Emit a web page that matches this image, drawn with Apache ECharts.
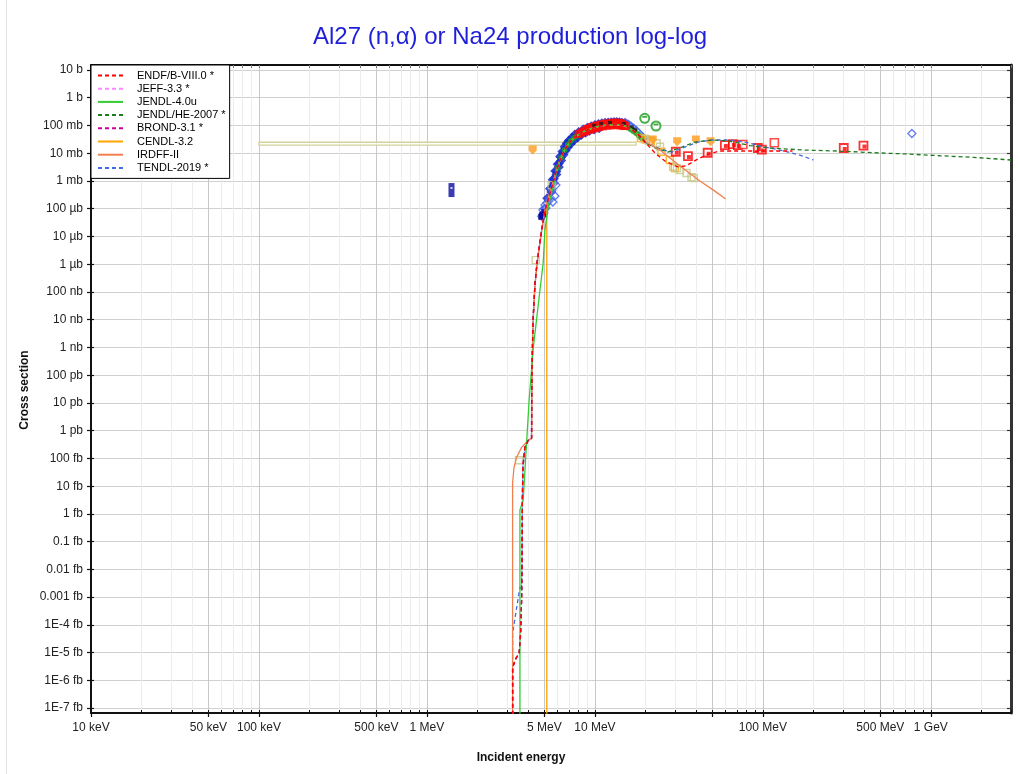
<!DOCTYPE html>
<html><head><meta charset="utf-8">
<script src="https://cdn.jsdelivr.net/npm/echarts@6/dist/echarts.min.js"></script>
<style>html,body{margin:0;padding:0;background:#fff}#c{width:1020px;height:774px}</style>
</head><body><div id="c"></div>
<script>
// ---------- tick labels ----------
const xTickValues = [0.01, 0.05, 0.1, 0.5, 1, 5, 10, 100, 500, 1000]; // MeV
const xTickLabels = ['10 keV','50 keV','100 keV','500 keV','1 MeV','5 MeV','10 MeV','100 MeV','500 MeV','1 GeV'];
const yTickExps = [1,0,-1,-2,-3,-4,-5,-6,-7,-8,-9,-10,-11,-12,-13,-14,-15,-16,-17,-18,-19,-20,-21,-22]; // log10(barn)
const yTickLabels = ['10 b','1 b','100 mb','10 mb','1 mb','100 µb','10 µb','1 µb','100 nb','10 nb','1 nb','100 pb','10 pb','1 pb','100 fb','10 fb','1 fb','0.1 fb','0.01 fb','0.001 fb','1E-4 fb','1E-5 fb','1E-6 fb','1E-7 fb'];

// ---------- evaluations: [energy MeV, cross section b] ----------
const endfB80 = [[3.236,1e-24],[3.236,2.95e-21],[3.39,6.3e-21],[3.54,9.5e-21],[3.61,5.0e-20],[3.66,7.7e-19],[3.68,1.2e-17],[3.69,2.0e-16],[3.70,3.1e-15],[3.725,4.8e-14],[3.83,2.5e-13],[4.01,4.5e-13],[4.20,5.4e-13],[4.20,1.3e-11],[4.22,1.5e-10],[4.28,9.7e-9],[4.39,1.8e-7],[4.52,1.1e-6],[4.82,1.7e-5],[5.04,8.9e-5],[5.40,3.7e-4],[5.62,8.4e-4],[5.86,2.1e-3],[6.19,5.7e-3],[6.63,1.42e-2],[7.10,2.53e-2],[7.60,3.84e-2],[8.15,4.9e-2],[8.71,6.3e-2],[9.73,8.1e-2],[10.7,9.6e-2],[11.8,0.104],[13.2,0.108],[14.5,0.104],[15.7,0.088],[17.1,0.063],[18.5,0.042],[20.1,0.0233],[22.8,0.0102],[26.1,0.0052],[31.2,0.0032],[34.8,0.0035],[41.0,0.0062],[47.7,0.0094],[55.5,0.012],[72.9,0.012],[103,0.012],[150,0.012]];
const jeff33 = [[3.236,1e-24],[3.236,3.0e-21],[3.40,6.4e-21],[3.55,9.6e-21],[3.62,5.1e-20],[3.66,7.9e-19],[3.68,1.3e-17],[3.69,2.1e-16],[3.70,3.2e-15],[3.73,4.9e-14],[3.84,2.6e-13],[4.02,4.6e-13],[4.21,5.5e-13],[4.22,1.5e-10],[4.29,9.8e-9],[4.40,1.8e-7],[4.53,1.1e-6],[4.83,1.7e-5],[5.05,9.0e-5],[5.41,3.7e-4],[5.63,8.5e-4],[5.87,2.1e-3],[6.20,5.8e-3],[6.64,1.43e-2],[7.11,2.54e-2],[7.61,3.85e-2],[8.16,4.95e-2],[8.72,6.3e-2],[9.74,8.1e-2],[10.7,9.6e-2],[11.8,0.104],[13.2,0.108],[14.5,0.104],[15.7,0.088],[17.1,0.063],[18.5,0.042],[20.0,0.024]];
const jendl40u = [[3.578,1e-24],[3.578,1.4e-15],[3.74,3.1e-15],[4.06,1.3e-11],[4.30,1.0e-9],[4.71,1.2e-7],[4.92,1.1e-6],[5.04,1.7e-5],[5.27,1.15e-4],[5.52,3.7e-4],[5.75,1.0e-3],[5.95,2.4e-3],[6.20,5.6e-3],[6.63,1.4e-2],[7.10,2.5e-2],[7.60,3.9e-2],[8.15,5.0e-2],[8.70,6.3e-2],[9.70,8.2e-2],[10.7,9.6e-2],[11.8,0.105],[13.2,0.109],[14.5,0.105],[15.7,0.089],[17.1,0.064],[18.5,0.043],[20.0,0.025]];
const jendlHE2007 = [[3.236,1e-24],[3.236,3.0e-21],[3.39,6.4e-21],[3.54,9.6e-21],[3.61,5.0e-20],[3.66,7.8e-19],[3.68,1.2e-17],[3.69,2.0e-16],[3.70,3.1e-15],[3.73,4.8e-14],[3.83,2.5e-13],[4.01,4.5e-13],[4.20,5.4e-13],[4.22,1.5e-10],[4.28,9.6e-9],[4.39,1.8e-7],[4.52,1.1e-6],[4.82,1.7e-5],[5.04,8.8e-5],[5.40,3.6e-4],[5.62,8.3e-4],[5.86,2.1e-3],[6.19,5.6e-3],[6.63,1.41e-2],[7.10,2.52e-2],[7.60,3.83e-2],[8.15,4.9e-2],[8.71,6.2e-2],[9.73,8.0e-2],[10.7,9.5e-2],[11.8,0.103],[13.2,0.107],[14.5,0.103],[15.7,0.087],[17.1,0.063],[18.5,0.042],[20.1,0.0235],[22.8,0.0155],[27.2,0.0110],[32.9,0.0167],[39.4,0.0253],[49.7,0.0299],[62.8,0.0275],[83.7,0.0189],[110,0.0154],[175,0.0130],[279,0.0120],[446,0.0105],[710,0.0094],[1132,0.0081],[1803,0.0071],[3000,0.0057]];
const brond31 = [[3.236,1e-24],[3.236,2.9e-21],[3.39,6.2e-21],[3.54,9.4e-21],[3.61,4.9e-20],[3.66,7.6e-19],[3.68,1.2e-17],[3.69,1.9e-16],[3.70,3.0e-15],[3.72,4.7e-14],[3.82,2.4e-13],[4.00,4.4e-13],[4.19,5.3e-13],[4.21,1.6e-10],[4.29,1.0e-8],[4.40,1.9e-7],[4.53,1.2e-6],[4.83,1.8e-5],[5.05,9.0e-5],[5.41,3.7e-4],[5.63,8.5e-4],[5.87,2.1e-3],[6.20,5.8e-3],[6.64,1.4e-2],[7.10,2.5e-2],[7.60,3.8e-2],[8.20,5.0e-2],[8.70,6.2e-2],[9.70,8.0e-2],[10.7,9.5e-2],[11.8,0.103],[13.2,0.107],[14.5,0.103],[15.7,0.087],[17.1,0.062],[18.5,0.041],[20.0,0.024]];
const cendl32 = [[5.17,1e-24],[5.17,1.6e-4],[5.40,3.6e-4],[5.62,8.3e-4],[5.86,2.0e-3],[6.19,5.6e-3],[6.63,1.4e-2],[7.10,2.5e-2],[7.60,3.8e-2],[8.15,4.9e-2],[8.71,6.2e-2],[9.73,8.0e-2],[10.7,9.5e-2],[11.8,0.103],[13.2,0.106],[14.5,0.102],[15.7,0.086],[17.1,0.062],[18.5,0.041],[20.0,0.024]];
const irdff2 = [[3.236,1e-24],[3.236,1.3e-14],[3.30,4.8e-14],[3.42,1.1e-13],[3.66,2.5e-13],[4.01,4.5e-13],[4.20,5.2e-13],[4.23,1.5e-10],[4.29,9.0e-9],[4.40,1.7e-7],[4.53,1.1e-6],[4.83,1.7e-5],[5.04,8.8e-5],[5.40,3.6e-4],[5.62,8.3e-4],[5.86,2.1e-3],[6.19,5.6e-3],[6.63,1.4e-2],[7.10,2.5e-2],[7.60,3.8e-2],[8.15,4.9e-2],[8.71,6.2e-2],[9.73,8.0e-2],[10.7,9.5e-2],[11.8,0.103],[13.2,0.107],[14.5,0.103],[15.7,0.087],[17.1,0.062],[18.5,0.042],[20.1,0.0253],[24.4,0.0130],[32.1,0.00345],[42.2,0.00099],[51.8,0.00043],[60.0,0.000223]];
const tendl2019 = [[3.236,1e-24],[3.236,5.0e-20],[3.578,2.3e-18],[3.65,1.8e-18],[3.68,1.2e-17],[3.69,2.0e-16],[3.70,3.1e-15],[3.725,4.8e-14],[3.84,2.6e-13],[4.02,4.6e-13],[4.19,5.6e-13],[4.22,1.4e-10],[4.28,9.5e-9],[4.39,1.7e-7],[4.52,1.1e-6],[4.82,1.7e-5],[5.05,9.0e-5],[5.40,3.7e-4],[5.62,8.5e-4],[5.86,2.1e-3],[6.19,5.8e-3],[6.63,1.43e-2],[7.10,2.55e-2],[7.60,3.85e-2],[8.15,4.95e-2],[8.70,6.3e-2],[9.70,8.1e-2],[10.7,9.6e-2],[11.8,0.104],[13.2,0.108],[14.5,0.104],[15.7,0.088],[17.1,0.063],[18.5,0.042],[20.1,0.024],[24.4,0.0142],[28.7,0.0110],[34.3,0.0167],[41.0,0.0253],[49.7,0.0299],[63.6,0.0299],[78.1,0.0253],[96.0,0.0182],[126,0.0130],[166,0.0086],[200,0.0057]];

// ---------- experimental data ----------
const expNavyBar = [[1.40,4.7e-4]];
const expNavy = [[4.80,5.0e-5],[4.85,5.8e-5],[4.90,6.2e-5],[4.82,5.4e-5],[5.0,7.5e-5]];
const expBlueUpper = [[5.0,1.0e-4],[5.2,2.4e-4],[5.4,5.2e-4],[5.6,1.1e-3],[5.8,2.3e-3],[6.0,4.0e-3],[6.2,7.6e-3],[6.4,1.15e-2],[6.6,1.7e-2],[6.8,2.3e-2],[7.0,2.9e-2],[7.3,3.7e-2],[7.6,4.7e-2],[8.0,5.8e-2],[8.5,7.1e-2],[9.0,8.3e-2],[9.5,9.4e-2],[10.0,0.104],[10.5,0.112],[11.0,0.119],[11.5,0.124],[12.0,0.128],[12.5,0.131],[13.0,0.133],[13.5,0.133],[14.0,0.131],[14.5,0.126],[15.0,0.119],[15.5,0.110],[16.0,0.100]];
const expBlueMid = [[5.5,5.5e-4],[5.7,1.2e-3],[5.9,2.2e-3],[6.1,4.3e-3],[6.3,7.2e-3],[6.5,1.1e-2],[6.7,1.55e-2],[6.9,2.05e-2],[7.1,2.55e-2],[7.4,3.3e-2],[7.7,4.0e-2],[8.0,4.7e-2],[8.4,5.6e-2],[8.9,6.6e-2]];
const expBlueLower = [[5.3,1.9e-4],[5.5,4.0e-4],[5.7,8.5e-4],[5.9,1.7e-3],[6.1,3.2e-3],[6.3,5.5e-3],[6.5,8.8e-3],[6.7,1.25e-2],[6.9,1.65e-2],[7.2,2.2e-2],[7.5,2.9e-2],[7.9,3.7e-2],[8.3,4.5e-2],[8.8,5.5e-2],[9.3,6.4e-2],[9.9,7.2e-2],[10.6,8.0e-2]];
const expBlueDiamonds = [[4.82,5.4e-5],[4.90,8.9e-5],[4.97,7.0e-5],[5.04,1.35e-4],[5.11,1.05e-4],[5.18,1.6e-4],[5.32,2.05e-4],[5.47,2.4e-4],[5.55,4.7e-4],[5.62,1.74e-4],[5.78,2.86e-4],[5.86,7.1e-4],[15.2,0.125],[15.8,0.108],[16.4,0.094],[17.0,0.080],[17.6,0.066],[18.2,0.054],[18.8,0.044],[19.4,0.036],[771,0.0513]];
const expRed = [[8.0,4.9e-2],[8.3,5.5e-2],[8.6,6.1e-2],[8.9,6.7e-2],[9.2,7.3e-2],[9.5,7.9e-2],[9.8,8.4e-2],[10.1,8.9e-2],[10.4,9.4e-2],[10.7,9.8e-2],[11.0,0.102],[11.3,0.106],[11.6,0.109],[11.9,0.111],[12.2,0.113],[12.5,0.115],[12.8,0.116],[13.1,0.117],[13.4,0.117],[13.7,0.116],[14.0,0.114],[14.3,0.111],[14.6,0.107],[14.9,0.102],[15.2,0.097],[9.0,7.6e-2],[9.6,8.8e-2],[10.2,9.8e-2],[10.8,0.107],[11.4,0.114],[12.0,0.120],[12.6,0.124],[13.2,0.126],[13.8,0.125],[14.4,0.120],[8.8,6.1e-2],[9.4,7.0e-2],[10.0,7.9e-2],[10.6,8.7e-2],[11.2,9.3e-2],[11.8,9.8e-2],[12.4,0.101],[13.0,0.103],[13.6,0.103],[14.2,0.100],[14.8,0.095]];
const expGreen = [[6.0,3.0e-3],[6.3,7.0e-3],[6.6,1.3e-2],[6.9,2.0e-2],[7.2,2.8e-2],[7.5,3.5e-2],[7.8,4.2e-2],[8.1,4.8e-2],[8.6,5.8e-2],[9.1,6.7e-2],[9.6,7.6e-2],[10.1,8.4e-2],[10.6,9.1e-2],[11.1,9.7e-2],[11.6,0.101],[12.6,0.106],[13.6,0.107],[14.6,0.100],[15.2,0.093],[15.8,0.083],[16.4,0.072],[17.0,0.062],[17.6,0.053],[18.2,0.044],[18.8,0.037],[19.4,0.030]];
const expBlack = [[9.9,0.098],[10.9,0.113],[12.3,0.124],[14.9,0.114],[16.6,0.085],[17.3,0.070]];
const expOrangeSq = [[18.8,0.035],[20.2,0.031],[21.5,0.027],[24.9,0.0113],[27.9,0.0057],[29.9,0.0029]];
const expKhakiSq = [[3.53,8.6e-14],[4.44,1.4e-6],[5.52,7.1e-4],[19.8,0.033],[21.0,0.028],[23.3,0.0228],[24.4,0.0171],[29.2,0.00326],[30.8,0.0029],[32.1,0.00248],[35.1,0.00193],[37.6,0.00138],[38.8,0.00127]];
const expGreenCircle = [[19.8,0.181],[23.1,0.0957]];
const expOrangePin = [[4.26,0.0130],[22.1,0.0299],[30.9,0.0259],[39.9,0.0299],[48.8,0.0259]];
const expRedSq = [[30.3,0.0113],[35.8,0.0079],[46.9,0.0104],[59.4,0.0197],[66.3,0.0214],[71.0,0.0197],[93.3,0.0154],[98.6,0.0135],[303,0.0154],[397,0.0189]];
const expRedSqHollow = [[76.0,0.0206],[117,0.0237]];
const boxEnergy = [0.1, 17.6];     // MeV range of integral measurement
const boxSigma = [0.0194, 0.0248]; // b range

// ---------- helpers ----------
const FONT = 'Liberation Sans, Arial, Helvetica, sans-serif';
function lin(name, data, color, dashed, z) {
  return { name, type: 'line', data, symbol: 'none', showSymbol: false, z, clip: true,
    lineStyle: { color, width: 1.3, type: dashed ? [4, 3] : 'solid' }, itemStyle: { color },
    emphasis: { disabled: true } };
}
function sc(data, symbol, size, style, z, extra) {
  return Object.assign({ type: 'scatter', data, symbol, symbolSize: size, itemStyle: style, z, clip: true,
    emphasis: { disabled: true }, silent: true }, extra || {});
}
function fmtX(v) {
  for (let i = 0; i < xTickValues.length; i++)
    if (Math.abs(Math.log10(v) - Math.log10(xTickValues[i])) < 1e-6) return xTickLabels[i];
  return '';
}
function fmtY(v) {
  const e = Math.round(Math.log10(v));
  const i = yTickExps.indexOf(e);
  return i >= 0 ? yTickLabels[i] : '';
}
const xMajor = [], xMinor = [];
for (let d = -2; d <= 3; d++) {
  for (let m = 1; m <= 9; m++) {
    const v = m * Math.pow(10, d);
    if (v > 3000) continue;
    if (m === 1 || m === 5) xMajor.push(v); else xMinor.push(v);
  }
}
const xAll = xMajor.concat(xMinor);
const yVals = yTickExps.map(e => Math.pow(10, e));
const XMIN = 0.01, XMAX = 3000, YMIN = 6.7e-23, YMAX = 15.1;

const xBase = { type: 'log', logBase: 10, min: XMIN, max: XMAX, gridIndex: 0 };
const yBase = { type: 'log', logBase: 10, min: YMIN, max: YMAX, gridIndex: 0 };

const option = {
  animation: false,
  backgroundColor: '#fff',
  title: { text: 'Al27 (n,α) or Na24 production log-log', left: 308, top: 20,
    textStyle: { color: '#1f1fd9', fontSize: 24, fontWeight: 'normal', fontFamily: FONT } },
  grid: { left: 91, right: 9, top: 65, bottom: 61, containLabel: false },
  legend: {
    data: ['ENDF/B-VIII.0 *','JEFF-3.3 *','JENDL-4.0u','JENDL/HE-2007 *','BROND-3.1 *','CENDL-3.2','IRDFF-II','TENDL-2019 *'],
    left: 91, top: 65, orient: 'vertical', itemWidth: 25, itemHeight: 10, itemGap: 2.2,
    padding: [5, 4, 5, 6], borderColor: '#000', borderWidth: 1, backgroundColor: '#fff',
    textStyle: { fontSize: 11, lineHeight: 11, color: '#000', fontFamily: FONT, padding: [0, 0, 0, 9] },
    lineStyle: { width: 2 }, itemStyle: { color: 'rgba(0,0,0,0)', borderWidth: 0, opacity: 0 },
    selectedMode: false, z: 20
  },
  xAxis: [
    Object.assign({}, xBase, { position: 'bottom',
      axisLine: { show: true, onZero: false, lineStyle: { color: '#111', width: 2 } },
      axisTick: { show: true, inside: false, length: 4, customValues: xMajor, lineStyle: { color: '#111', width: 1.2 } },
      axisLabel: { show: true, customValues: xTickValues, formatter: fmtX, fontSize: 12, color: '#222', fontFamily: FONT, margin: 9 },
      splitLine: { show: true, lineStyle: { color: '#c8c8c8', width: 1 } }, minorTick: { show: false } }),
    Object.assign({}, xBase, { position: 'bottom',
      axisLine: { show: false }, axisTick: { show: false, customValues: xMinor }, axisLabel: { show: false },
      splitLine: { show: true, lineStyle: { color: '#ececec', width: 1 } } }),
    Object.assign({}, xBase, { position: 'bottom',
      axisLine: { show: false }, axisTick: { show: true, inside: true, length: 3, customValues: xAll, lineStyle: { color: '#111', width: 1 } },
      axisLabel: { show: false }, splitLine: { show: false } }),
    Object.assign({}, xBase, { position: 'top',
      axisLine: { show: true, onZero: false, lineStyle: { color: '#111', width: 2 } },
      axisTick: { show: true, inside: true, length: 3, customValues: xAll, lineStyle: { color: '#777', width: 1 } },
      axisLabel: { show: false }, splitLine: { show: false } })
  ],
  yAxis: [
    Object.assign({}, yBase, { position: 'left',
      axisLine: { show: true, onZero: false, lineStyle: { color: '#111', width: 2 } },
      axisTick: { show: true, inside: false, length: 4, customValues: yVals, lineStyle: { color: '#111', width: 1.2 } },
      axisLabel: { show: true, customValues: yVals, formatter: fmtY, fontSize: 12, color: '#222', fontFamily: FONT, margin: 8 },
      splitLine: { show: true, lineStyle: { color: '#d0d0d0', width: 1 } }, minorTick: { show: false } }),
    Object.assign({}, yBase, { position: 'left',
      axisLine: { show: false }, axisTick: { show: true, inside: true, length: 3, customValues: yVals, lineStyle: { color: '#111', width: 1.2 } },
      axisLabel: { show: false }, splitLine: { show: false } }),
    Object.assign({}, yBase, { position: 'right',
      axisLine: { show: true, onZero: false, lineStyle: { color: '#333', width: 3 } },
      axisTick: { show: true, inside: true, length: 4, customValues: yVals, lineStyle: { color: '#333', width: 1.2 } },
      axisLabel: { show: false }, splitLine: { show: false } })
  ],
  graphic: [
    { type: 'line', shape: { x1: 6.5, y1: 0, x2: 6.5, y2: 774 }, style: { stroke: '#e2e2e2', lineWidth: 1 }, silent: true },
    { type: 'text', x: 521, y: 758, style: { text: 'Incident energy', fill: '#111', font: 'bold 12px ' + FONT, textAlign: 'center', textVerticalAlign: 'middle' }, silent: true },
    { type: 'text', x: 25, y: 390, rotation: Math.PI / 2, style: { text: 'Cross section', fill: '#111', font: 'bold 12px ' + FONT, textAlign: 'center', textVerticalAlign: 'middle' }, silent: true }
  ],
  series: [
    { type: 'custom', coordinateSystem: 'cartesian2d', silent: true, z: 1,
      data: [[boxEnergy[0], boxEnergy[1], boxSigma[0], boxSigma[1]]], encode: { x: [0, 1], y: [2, 3] },
      renderItem: function (params, api) {
        const p0 = api.coord([api.value(0), api.value(3)]);
        const p1 = api.coord([api.value(1), api.value(2)]);
        return { type: 'rect', shape: { x: p0[0], y: p0[1], width: p1[0] - p0[0], height: p1[1] - p0[1] },
          style: { fill: 'rgba(255,255,255,0.6)', stroke: '#d2d29a', lineWidth: 1.3 } };
      } },
    sc(expNavyBar, 'rect', [6, 14], { color: '#0a0aa0' }, 3),
    sc(expNavyBar, 'rect', [2, 2], { color: '#fff' }, 4, { symbolOffset: [0, -2] }),
    sc(expBlueLower, 'diamond', 10, { color: '#1020c8' }, 3),
    sc(expBlueUpper, 'diamond', 10, { color: '#1020c8' }, 3),
    sc(expBlueMid, 'diamond', 10, { color: '#1830d8' }, 3),
    sc(expBlueDiamonds, 'diamond', 8, { color: 'rgba(255,255,255,0.3)', borderColor: '#3f5ef0', borderWidth: 1.3 }, 4),
    sc(expNavy, 'rect', 6, { color: '#0a0aa0' }, 4),
    sc(expGreen, 'circle', 6, { color: '#1ea01e' }, 4),
    sc(expRed, 'rect', 8, { color: '#ff0a0a' }, 5),
    sc(expBlack, 'rect', 4, { color: '#1a1a1a' }, 5),
    sc(expOrangeSq, 'rect', 7, { color: 'rgba(255,255,255,0)', borderColor: '#ffa500', borderWidth: 1.4 }, 5),
    sc(expKhakiSq, 'rect', 7, { color: 'rgba(255,255,255,0)', borderColor: '#c6c68a', borderWidth: 1.4 }, 5),
    sc(expGreenCircle, 'circle', 9, { color: '#fff', borderColor: '#1a9a1a', borderWidth: 2 }, 5),
    sc(expGreenCircle, 'rect', [5, 2], { color: '#1a9a1a' }, 6, { symbolOffset: [0, -1.5] }),
    sc(expOrangePin, 'path://M0,0 L10,0 L10,6 L5,11 L0,6 Z', [8, 9], { color: '#ff9a1a' }, 5),
    sc(expRedSq, 'rect', 8, { color: '#fff', borderColor: '#ff0000', borderWidth: 1.8 }, 5),
    sc(expRedSq, 'rect', 4, { color: '#ff0000' }, 6, { symbolOffset: [1, 1] }),
    sc(expRedSqHollow, 'rect', 8, { color: '#fff', borderColor: '#ff2020', borderWidth: 1.6 }, 5),
    lin('TENDL-2019 *', tendl2019, '#4169e1', true, 10),
    lin('JEFF-3.3 *', jeff33, '#ff88ff', true, 10),
    lin('JENDL/HE-2007 *', jendlHE2007, '#1e7b1e', true, 11),
    lin('CENDL-3.2', cendl32, '#ffa500', false, 11),
    lin('IRDFF-II', irdff2, '#f08050', false, 12),
    lin('JENDL-4.0u', jendl40u, '#33cc33', false, 12),
    lin('BROND-3.1 *', brond31, '#cc0099', true, 13),
    lin('ENDF/B-VIII.0 *', endfB80, '#ff0000', true, 14)
  ]
};
const chart = echarts.init(document.getElementById('c'), null, { renderer: 'canvas' });
chart.setOption(option);
</script></body></html>
